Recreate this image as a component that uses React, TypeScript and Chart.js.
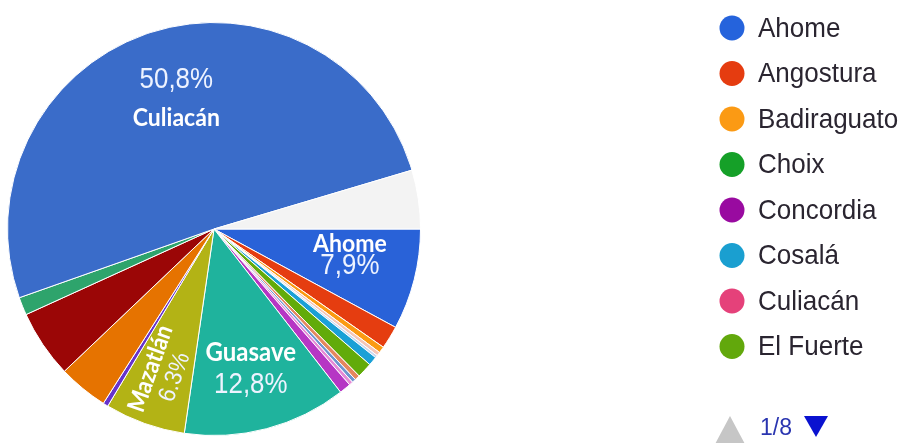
import { useEffect, useRef } from 'react';
import { Chart, registerables } from 'chart.js';

Chart.register(...registerables);

// ---- data (percent of answers), clockwise from 3 o'clock ----
const sliceNames = [
  'Ahome', 'Angostura', 'Badiraguato', 'Choix', 'Concordia', 'Cosalá', 'El Fuerte',
  'Elota', 'Escuinapa', 'Eldorado', 'Guamúchil', 'Guasave', 'Mazatlán', 'Mocorito',
  'Navolato', 'Rosario', 'Salvador Alvarado', 'Culiacán', 'Otro',
];
const sliceValues = [
  7.9, 1.8, 0.5, 0.3, 0.2, 0.7, 1.2,
  0.4, 0.3, 0.3, 0.9, 12.8, 6.3, 0.4,
  3.9, 5.3, 1.4, 50.8, 4.6,
];
const sliceColors = [
  '#2962d8', '#e53d10', '#fb9a12', '#f5c6b8', '#c9d6ee', '#1aa0d6', '#62ab0a',
  '#e5875f', '#6f95cf', '#e58ad6', '#b636c4', '#1fb39d', '#b3b315', '#6633cc',
  '#e67300', '#9b0606', '#2ea46c', '#3a6cc9', '#f3f3f3',
];

const legendNames = ['Ahome', 'Angostura', 'Badiraguato', 'Choix', 'Concordia', 'Cosalá', 'Culiacán', 'El Fuerte'];
const legendColors = ['#2563dc', '#e53c10', '#fb9a14', '#15a028', '#990aa0', '#1a9fd0', '#e5417a', '#62a80c'];
const pagerText = '1/8';

// label styling (per labelled slice)
const labelSpecs: Record<string, any> = {
  'Culiacán': { t: 0.51, frac: 0.655, pctFirst: true, gap: 37, rotate: false, sep: ',', nameSize: 24, pctSize: 27 },
  'Ahome': { t: 0.38, frac: 0.67, pctFirst: false, gap: 23, rotate: false, sep: ',', nameSize: 24, pctSize: 27 },
  'Guasave': { t: 0.5, frac: 0.70, pctFirst: false, gap: 32, rotate: false, sep: ',', nameSize: 25, pctSize: 27 },
  'Mazatlán': { t: 0.5, frac: 0.74, pctFirst: false, gap: 26, rotate: true, sep: '.', nameSize: 23, pctSize: 23 },
};

const sliceLabelPlugin = {
  id: 'sliceLabels',
  afterDatasetsDraw(chart: any) {
    const ctx = chart.ctx;
    const meta = chart.getDatasetMeta(0);
    const values = chart.data.datasets[0].data as number[];
    const labels = chart.data.labels as string[];
    labels.forEach((name, i) => {
      const spec = labelSpecs[name];
      if (!spec) return;
      const arc = meta.data[i];
      const p = arc.getProps(['x', 'y', 'startAngle', 'endAngle', 'outerRadius'], true);
      const ang = p.startAngle + (p.endAngle - p.startAngle) * spec.t;
      const r = p.outerRadius * spec.frac;
      const cx = p.x + Math.cos(ang) * r;
      const cy = p.y + Math.sin(ang) * r;
      const pct = values[i].toFixed(1).replace('.', spec.sep) + '%';
      const nameLine = { text: name, font: `bold ${spec.nameSize}px Lato, "Open Sans", sans-serif`, color: '#ffffff' };
      const pctLine = { text: pct, font: `${spec.pctSize}px "Liberation Sans", Arial, sans-serif`, color: '#eef3ff' };
      const lines = spec.pctFirst ? [pctLine, nameLine] : [nameLine, pctLine];
      ctx.save();
      ctx.translate(cx, cy);
      if (spec.rotate) ctx.rotate(ang + Math.PI);
      ctx.textAlign = 'center';
      ctx.textBaseline = 'middle';
      lines.forEach((ln, k) => {
        const dy = (k - (lines.length - 1) / 2) * spec.gap;
        ctx.save();
        ctx.translate(0, dy);
        ctx.scale(0.96, 1.06);
        ctx.font = ln.font;
        ctx.fillStyle = ln.color;
        ctx.fillText(ln.text, 0, 0);
        ctx.restore();
      });
      ctx.restore();
    });
  },
};

const legendPlugin = {
  id: 'sideLegend',
  afterDraw(chart: any) {
    const ctx = chart.ctx;
    ctx.save();
    const x0 = 732;
    const y0 = 28;
    const step = 45.5;
    legendNames.forEach((name, i) => {
      const y = y0 + i * step;
      ctx.beginPath();
      ctx.arc(x0, y, 12.5, 0, Math.PI * 2);
      ctx.fillStyle = legendColors[i];
      ctx.fill();
      ctx.font = '26px "Liberation Sans", Arial, sans-serif';
      ctx.fillStyle = '#2a2530';
      ctx.textAlign = 'left';
      ctx.textBaseline = 'middle';
      ctx.save();
      ctx.translate(758, y + 1);
      ctx.scale(1.0, 1.08);
      ctx.fillText(name, 0, 0);
      ctx.restore();
    });
    // pager
    ctx.beginPath();
    ctx.moveTo(714, 446);
    ctx.lineTo(746, 446);
    ctx.lineTo(730, 416);
    ctx.closePath();
    ctx.fillStyle = '#c6c6c6';
    ctx.fill();
    ctx.font = '23px "Liberation Sans", Arial, sans-serif';
    ctx.fillStyle = '#2a35b0';
    ctx.textAlign = 'left';
    ctx.textBaseline = 'alphabetic';
    ctx.fillText(pagerText, 760, 435);
    ctx.beginPath();
    ctx.moveTo(804, 416);
    ctx.lineTo(828, 416);
    ctx.lineTo(816, 437);
    ctx.closePath();
    ctx.fillStyle = '#0a12d0';
    ctx.fill();
    ctx.restore();
  },
};

export default function App() {
  const ref = useRef<HTMLCanvasElement | null>(null);
  useEffect(() => {
    if (!ref.current) return;
    const chart = new Chart(ref.current, {
      type: 'pie',
      data: {
        labels: sliceNames,
        datasets: [{
          data: sliceValues,
          backgroundColor: sliceColors,
          borderColor: '#ffffff',
          borderWidth: 1,
        }],
      },
      options: {
        responsive: false,
        animation: false,
        devicePixelRatio: 1,
        rotation: 90,
        layout: { padding: { left: 7, top: 22, right: 906 - 421, bottom: 443 - 436 } },
        plugins: {
          legend: { display: false },
          tooltip: { enabled: false },
        },
      },
      plugins: [sliceLabelPlugin, legendPlugin],
    });
    return () => chart.destroy();
  }, []);
  return (
    <div style={{ position: 'absolute', left: 0, top: 0, width: 906, height: 443, background: '#ffffff' }}>
      <canvas ref={ref} width={906} height={443} style={{ width: 906, height: 443, display: 'block' }} />
    </div>
  );
}
